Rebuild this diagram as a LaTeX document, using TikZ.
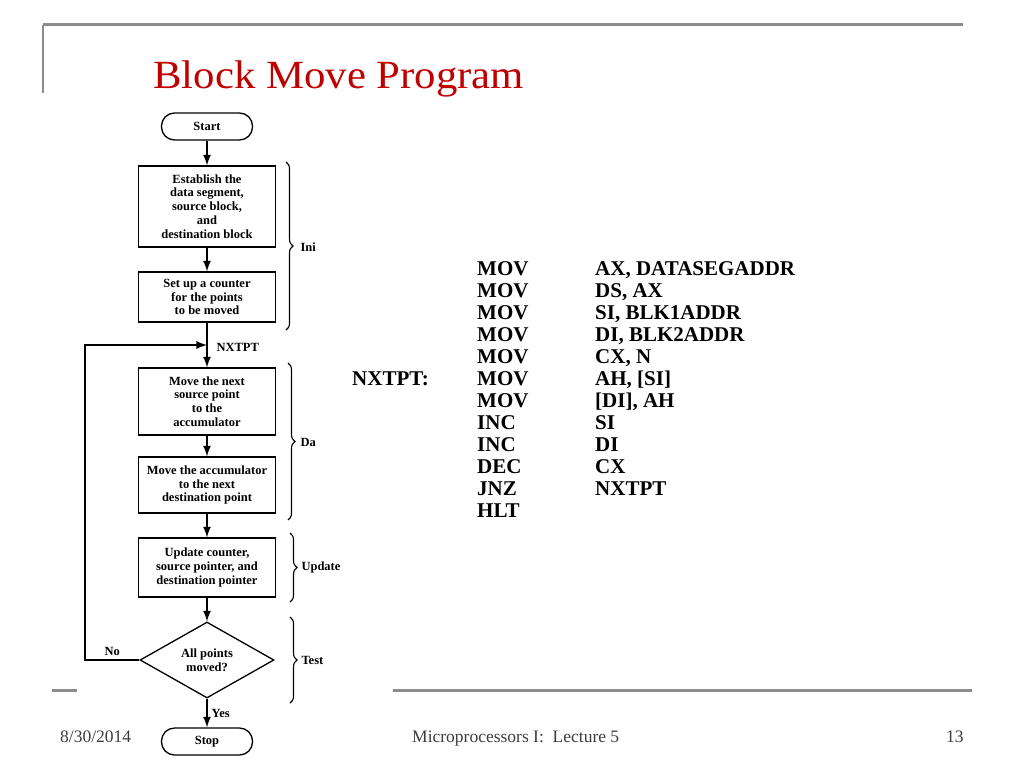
\documentclass[tikz,border=0pt]{standalone}
\usepackage{fontspec}
\setmainfont{Liberation Serif}
\usetikzlibrary{shapes.geometric,decorations.pathreplacing,arrows}

\definecolor{titlered}{RGB}{192,0,0}
\definecolor{rulegray}{RGB}{140,140,140}
\definecolor{footgray}{RGB}{60,60,60}

\begin{document}
\begin{tikzpicture}[
x=1pt,
y=-1pt,
block/.style={
  draw,
  line width=1.3pt,
  minimum width=137pt,
  align=center,
  inner sep=2pt,
  font=\fontsize{12.5}{13.8}\selectfont\bfseries
  },
term/.style={
  draw,
  line width=1.3pt,
  rounded corners=13pt,
  minimum width=91pt,
  minimum height=27pt,
  font=\fontsize{12.5}{13.8}\selectfont\bfseries
  },
decision/.style={
  draw,
  diamond,
  line width=1.3pt,
  aspect=1.76,
  inner sep=0pt,
  minimum width=134pt,
  minimum height=76pt,
  align=center,
  font=\fontsize{12.5}{13.8}\selectfont\bfseries
  },
flow/.style={
  line width=2.6pt
  },
brc/.style={
  decorate,
  decoration={brace,amplitude=7pt},
  line width=1.1pt
  },
lbl/.style={
  font=\fontsize{12.5}{13}\selectfont\bfseries
  },
asm/.style={
  anchor=base west,
  inner sep=0pt,
  font=\fontsize{21}{22}\selectfont\bfseries
  },
foot/.style={
  anchor=base west,
  inner sep=0pt,
  text=footgray,
  font=\fontsize{17.5}{19}\selectfont
  },
>=latex
]
\useasboundingbox (0,0) rectangle (1024,768);

% slide frame
\draw[rulegray, line width=3pt] (43,25) -- (963,25);
\draw[rulegray, line width=2pt] (43,25) -- (43,93);
\draw[rulegray, line width=3pt] (52,690) -- (77,690);
\draw[rulegray, line width=3pt] (393,690) -- (972,690);

\node[anchor=base west, inner sep=0pt, text=titlered,
  font=\fontsize{40}{44}\selectfont, xscale=1.07] (title) at (153,88) {Block Move Program};

\node[foot] (date) at (60,742) {8/30/2014};
\node[foot] (course) at (412,742) {Microprocessors I:\ \ Lecture 5};
\node[foot] (page) at (946,742) {13};

% flowchart
\node[term] (start) at (207,126.5) {Start};
\node[block, minimum height=81pt] (estab) at (207,206.5)
  {Establish the\\data segment,\\source block,\\and\\destination block};
\node[block, minimum height=50pt] (counter) at (207,297)
  {Set up a counter\\for the points\\to be moved};
\node[block, minimum height=67pt] (fetch) at (207,401.5)
  {Move the next\\source point\\to the\\accumulator};
\node[block, minimum height=56pt] (store) at (207,485)
  {Move the accumulator\\to the next\\destination point};
\node[block, minimum height=59pt] (update) at (207,567.5)
  {Update counter,\\source pointer, and\\destination pointer};
\node[decision] (test) at (207,660) {All points\\moved?};
\node[term] (stop) at (207,741.5) {Stop};

\coordinate (nxt) at (207,345);
\coordinate (loop) at (85,660);
\node[lbl, anchor=west] (nxtlbl) at (213,347) {NXTPT};

\draw[flow,->] (start) -- (estab);
\draw[flow,->] (estab) -- (counter);
\draw[flow,->] (counter) -- (fetch);
\draw[flow,->] (fetch) -- (store);
\draw[flow,->] (store) -- (update);
\draw[flow,->] (update) -- (test);
\draw[flow,->] (test) -- node[right, lbl] {Yes} (stop);
\draw[flow,->] (test.west) -- node[above, lbl] {No} (loop) |- (nxt);

% braces
\draw[brc] (286,162) -- (286,330);
\node[lbl, anchor=west] (ini) at (297,247) {Ini};
\draw[brc] (288,363) -- (288,520);
\node[lbl, anchor=west] (da) at (297,442) {Da};
\draw[brc] (290,533) -- (290,602);
\node[lbl, anchor=west] (upd) at (298,567.5) {Update};
\draw[brc] (290,617) -- (290,703);
\node[lbl, anchor=west] (tst) at (298,660) {Test};

% assembly listing
\foreach \op/\arg [count=\i] in {MOV/{AX, DATASEGADDR}, MOV/{DS, AX}, MOV/{SI, BLK1ADDR},
  MOV/{DI, BLK2ADDR}, MOV/{CX, N}, MOV/{AH, [SI]}, MOV/{[DI], AH}, INC/SI, INC/DI,
  DEC/CX, JNZ/NXTPT, HLT/{}}
{
  \node[asm] (op\i) at (477,{275.3+(\i-1)*22}) {\op};
  \node[asm] (arg\i) at (595,{275.3+(\i-1)*22}) {\arg};
}
\node[asm] (nxtpt) at (352,385.3) {NXTPT:};

\end{tikzpicture}
\end{document}
